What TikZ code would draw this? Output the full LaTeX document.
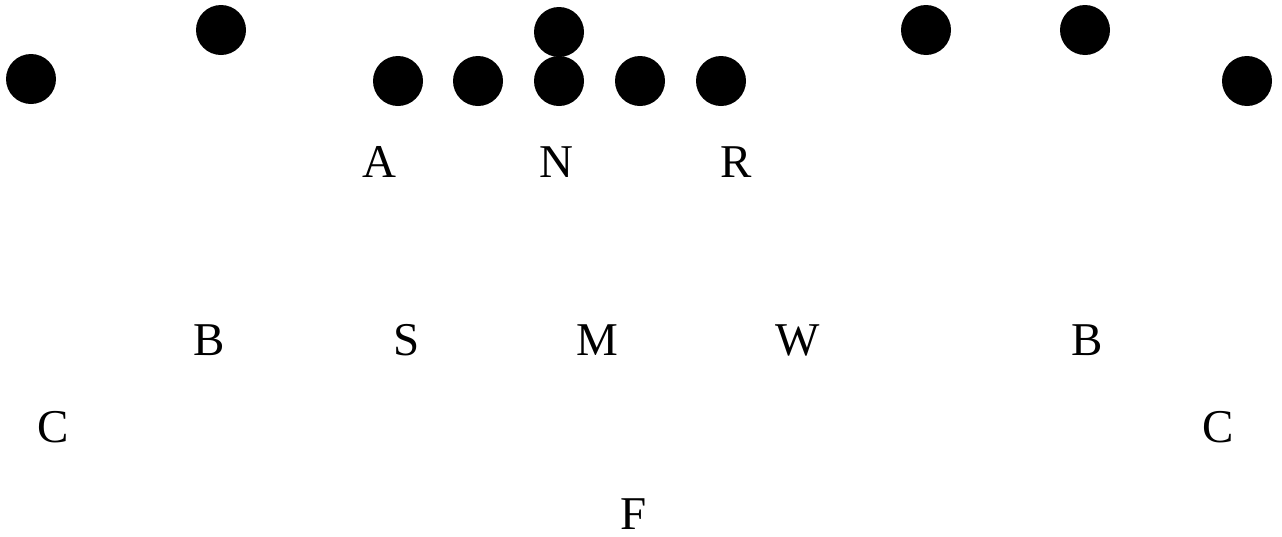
\documentclass[tikz,border=0pt]{standalone}
\usepackage{fontspec}
\setmainfont{Liberation Serif}
\begin{document}
\begin{tikzpicture}[x=1pt,y=-1pt,
  dot/.style={circle,fill=black,draw=none,minimum size=50pt,inner sep=0pt},
  lab/.style={anchor=base,inner sep=0pt,font=\fontsize{47}{50}\selectfont}]
\useasboundingbox (0,0) rectangle (1282,536);
% offense
\node[dot] (d1) at (31,79) {};
\node[dot] (d2) at (221,30) {};
\node[dot] (d3) at (398,81) {};
\node[dot] (d4) at (478,81) {};
\node[dot] (d5) at (559,81) {};
\node[dot] (d6) at (559,32) {};
\node[dot] (d7) at (640,81) {};
\node[dot] (d8) at (721,81) {};
\node[dot] (d9) at (926,30) {};
\node[dot] (d10) at (1085,30) {};
\node[dot] (d11) at (1247,81) {};
% defense
\node[lab] (A) at (379,177) {A};
\node[lab] (N) at (556,177) {N};
\node[lab] (R) at (736,177) {R};
\node[lab] (B1) at (209,355) {B};
\node[lab] (S) at (407,355) {S};
\node[lab] (M) at (597,355) {M};
\node[lab] (W) at (798,355) {W};
\node[lab] (B2) at (1087,355) {B};
\node[lab] (C1) at (53,442) {C};
\node[lab] (C2) at (1218,442) {C};
\node[lab] (F) at (634,529) {F};
\end{tikzpicture}
\end{document}
